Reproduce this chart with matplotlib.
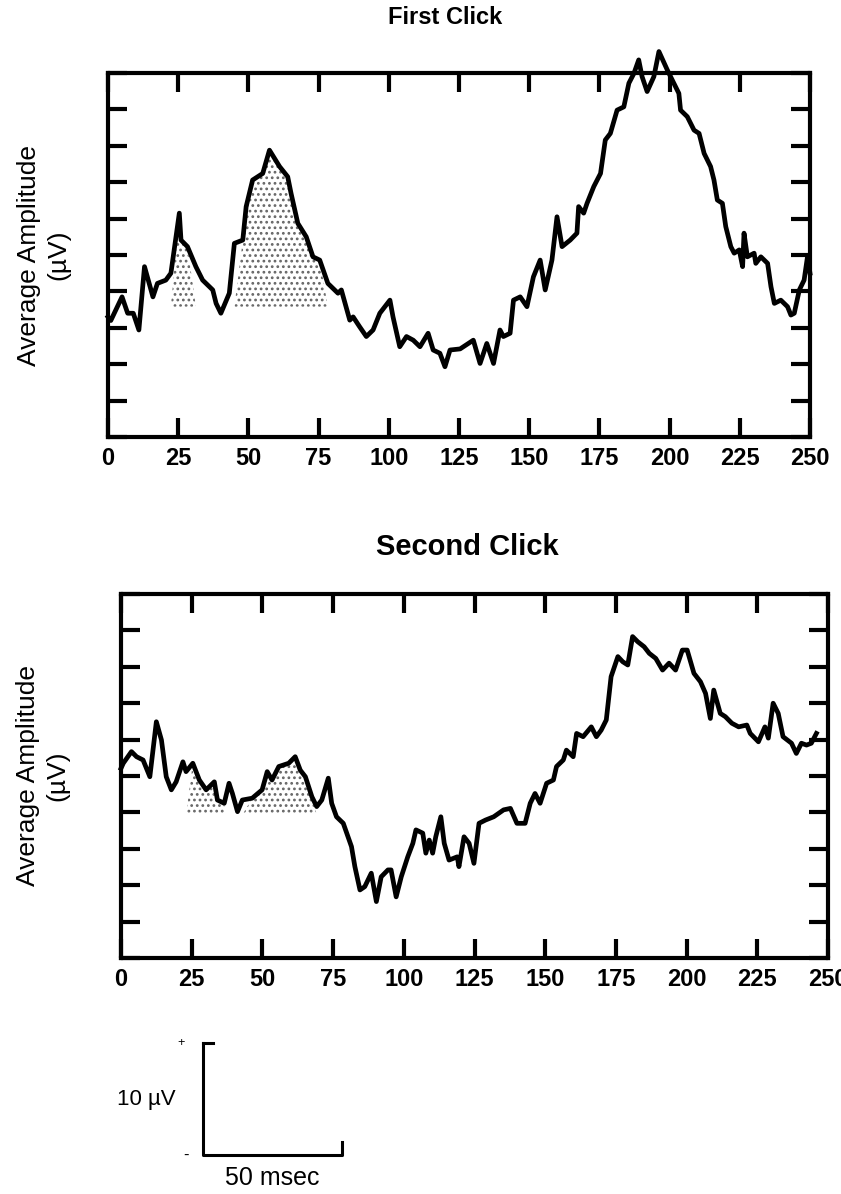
import matplotlib
matplotlib.use("Agg")
import matplotlib.pyplot as plt
import numpy as np

plt.rcParams['font.family'] = ['Liberation Sans', 'DejaVu Sans']
plt.rcParams['hatch.linewidth'] = 1.2

# time (msec) / amplitude (tick units)
first_t = [0, 1, 5, 7, 9, 11, 13, 16, 17.6, 20.6, 22.4, 25.4, 26, 28.3, 31.3, 33.7,
           37.3, 38.5, 40.2, 43.2, 45, 48, 49.2, 51.5, 55.1, 57.5, 61.1, 64, 65.2,
           67.6, 70.6, 73, 75.4, 78.3, 81.9, 83.1, 86.1, 87.3, 89.6, 92, 94.4, 96.8,
           100.4, 101.5, 103.9, 106.3, 108.7, 111.1, 114, 115.8, 118.2, 120, 121.8,
           125.4, 130.1, 132.5, 134.9, 137.3, 139.6, 140.8, 143.2, 144.4, 146.8,
           149.2, 151.5, 153.9, 155.7, 158.1, 159.9, 161.7, 164.6, 167, 167.6, 169.4,
           170.6, 173, 175.4, 177.1, 178.9, 181.3, 183.7, 185.5, 187.3, 189, 190.2,
           192, 194.4, 196.2, 199.2, 201.5, 203.3, 203.9, 206.3, 208.7, 210.5, 212.3,
           214.6, 215.8, 217, 218.8, 220, 221.8, 223, 224.8, 226, 226.5, 227.7, 230.1,
           230.7, 232.5, 234.9, 236.1, 237.3, 239.6, 242, 243.2, 244.4, 246.2, 247.9,
           249.1, 250]
first_amp = [3.3, 3.2, 3.85, 3.4, 3.4, 2.94, 4.68, 3.85, 4.22, 4.31, 4.5, 6.15, 5.41,
             5.23, 4.68, 4.31, 4.04, 3.67, 3.4, 3.95, 5.32, 5.41, 6.33, 7.06, 7.24,
             7.88, 7.43, 7.15, 6.69, 5.87, 5.5, 4.95, 4.86, 4.22, 3.95, 4.04, 3.21,
             3.3, 3.03, 2.76, 2.94, 3.4, 3.76, 3.3, 2.48, 2.76, 2.66, 2.48, 2.85, 2.39,
             2.3, 1.93, 2.39, 2.42, 2.66, 2.02, 2.57, 2.02, 2.94, 2.76, 2.85, 3.76,
             3.85, 3.58, 4.4, 4.86, 4.04, 4.86, 6.05, 5.23, 5.41, 5.6, 6.33, 6.15,
             6.42, 6.88, 7.24, 8.16, 8.34, 8.98, 9.07, 9.72, 9.99, 10.36, 9.9, 9.49,
             9.9, 10.59, 10.08, 9.72, 9.44, 8.98, 8.8, 8.43, 8.34, 7.79, 7.43, 7.06,
             6.51, 6.42, 5.78, 5.23, 5.05, 5.14, 4.68, 5.6, 4.95, 5.05, 4.77, 4.95,
             4.77, 4.13, 3.67, 3.76, 3.58, 3.35, 3.4, 4.04, 4.31, 4.95, 4.5]

second_t = [0, 0.8, 3.7, 5.5, 7.8, 10.2, 12.5, 14.3, 16, 17.8, 19.5, 21.9, 23, 25.4,
            27.7, 30.1, 33, 34.1, 36.5, 38.2, 39.4, 41.2, 42.9, 46.4, 49.9, 51.7,
            53.4, 55.8, 59.3, 61.6, 63.4, 65.2, 67.5, 69.2, 71, 73.3, 74.5, 76.2,
            78.6, 81.5, 82.7, 84.5, 86.2, 88.5, 90.3, 92, 94.4, 95.5, 97.3, 99.1,
            101.4, 103.2, 104.3, 106.7, 107.8, 109, 110.2, 111.3, 113.1, 114.3, 116,
            118.9, 119.5, 121.3, 123.1, 124.8, 126.6, 128.9, 131.8, 135.3, 137.7, 140,
            142.9, 144.7, 146.4, 148.2, 150.5, 152.9, 154, 156.4, 157.5, 159.9, 161.1,
            163.4, 166.3, 168.1, 169.8, 171.6, 173.3, 175.7, 177.4, 179.2, 180.9,
            182.7, 185, 186.8, 189.1, 191.5, 193.8, 196.1, 198.5, 200.2, 202.6, 204.9,
            206.7, 208.4, 209.6, 211.9, 213.7, 216, 218.4, 221.3, 222.5, 225.4, 227.7,
            228.9, 230.6, 232.4, 234.1, 237.1, 238.8, 240.6, 242.4, 244.1, 245.9]
second_amp = [5.21, 5.35, 5.67, 5.53, 5.44, 4.98, 6.49, 5.99, 4.98, 4.62, 4.84, 5.39,
              5.12, 5.35, 4.89, 4.62, 4.84, 4.34, 4.25, 4.8, 4.52, 4.02, 4.34, 4.39,
              4.62, 5.12, 4.89, 5.26, 5.35, 5.53, 5.16, 4.98, 4.43, 4.16, 4.34, 4.94,
              4.25, 3.88, 3.7, 3.06, 2.51, 1.87, 1.96, 2.33, 1.55, 2.23, 2.42, 2.42,
              1.68, 2.23, 2.78, 3.15, 3.52, 3.43, 2.88, 3.24, 2.88, 3.33, 3.88, 3.15,
              2.69, 2.78, 2.51, 3.33, 3.15, 2.6, 3.7, 3.79, 3.88, 4.07, 4.11, 3.7, 3.7,
              4.25, 4.52, 4.25, 4.8, 4.89, 5.26, 5.44, 5.71, 5.53, 6.17, 6.08, 6.35,
              6.08, 6.26, 6.54, 7.73, 8.28, 8.14, 8.05, 8.83, 8.69, 8.55, 8.37, 8.23,
              7.91, 8.1, 7.91, 8.46, 8.46, 7.82, 7.59, 7.27, 6.58, 7.36, 6.72, 6.63,
              6.45, 6.35, 6.4, 6.17, 5.94, 6.35, 6.04, 7.0, 6.72, 6.08, 5.9, 5.62, 5.9,
              5.85, 5.9, 6.17]

# shaded components: (start, end) windows and baseline level
first_shade = [(23, 31), (47.5, 75.5)]
first_base = 3.58
second_shade = [(25, 37), (45, 69)]
second_base = 3.93

xticks = [0, 25, 50, 75, 100, 125, 150, 175, 200, 225, 250]
scale_ms, scale_uv = 50, 10

W, H = 841, 1194
fig = plt.figure(figsize=(W / 100, H / 100), dpi=100)


def px_axes(left, top, right, bottom):
    return fig.add_axes([left / W, 1 - bottom / H, (right - left) / W, (bottom - top) / H])


def panel(ax, t, amp, shades, base, title, title_pad, title_x, title_size, ylpad):
    t = np.array(t); amp = np.array(amp)
    for a, b in shades:
        m = (t >= a) & (t <= b)
        ax.fill_between(t, base, amp, where=m & (amp > base), interpolate=True,
                        facecolor='none', edgecolor='0.4', hatch='...', linewidth=0)
    ax.plot(t, amp, color='black', lw=3.4, clip_on=False, solid_joinstyle='round')
    ax.set_xlim(0, 250)
    ax.set_ylim(0, 10)
    ax.set_xticks(xticks)
    ax.set_xticklabels([str(v) for v in xticks], fontsize=17, fontweight='bold')
    ax.set_yticks(range(11))
    ax.set_yticklabels([])
    ax.tick_params(direction='in', length=14, width=3, top=True, right=True, pad=7)
    for s in ax.spines.values():
        s.set_linewidth(3)
    ax.set_title(title, fontsize=title_size, fontweight='bold', pad=title_pad, x=title_x)
    ax.set_ylabel("Average Amplitude\n(\u00b5V)", fontsize=19, labelpad=ylpad,
                  linespacing=1.3, multialignment='center')


ax1 = px_axes(108, 73, 810, 437)
panel(ax1, first_t, first_amp, first_shade, first_base, "First Click", 35, 0.48, 17, 20)

ax2 = px_axes(121, 594, 828, 958)
panel(ax2, second_t, second_amp, second_shade, second_base, "Second Click", 28, 0.49, 21, 30)

# calibration bar
axs = px_axes(203, 1043, 203 + 139, 1155)
axs.set_xlim(0, scale_ms)
axs.set_ylim(0, scale_uv)
axs.axis('off')
axs.plot([0, 0, scale_ms, scale_ms], [scale_uv, 0, 0, scale_uv * 0.12],
         color='black', lw=2.2, clip_on=False)
axs.plot([0, scale_ms * 0.07], [scale_uv, scale_uv], color='black', lw=2.2, clip_on=False)
axs.text(-scale_ms * 0.16, scale_uv, "+", fontsize=9, ha='center', va='center')
axs.text(-scale_ms * 0.12, 0, "-", fontsize=12, ha='center', va='center')
axs.text(-scale_ms * 0.2, scale_uv / 2, "10 \u00b5V", fontsize=16, ha='right', va='center')
axs.text(scale_ms / 2, -scale_uv * 0.1, "50 msec", fontsize=18, ha='center', va='top')

fig.savefig("out.png", dpi=100)
